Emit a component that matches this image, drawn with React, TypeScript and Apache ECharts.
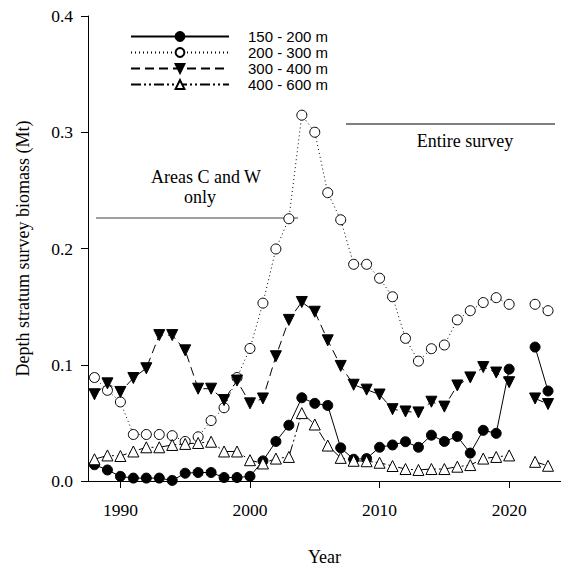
import React, { useEffect, useRef } from "react";
import * as echarts from "echarts";

const years = [1988,1989,1990,1991,1992,1993,1994,1995,1996,1997,1998,1999,2000,2001,2002,2003,2004,2005,2006,2007,2008,2009,2010,2011,2012,2013,2014,2015,2016,2017,2018,2019,2020,2021,2022,2023];

const s150_200 = [0.014,0.0095,0.004,0.0025,0.0025,0.0025,0.0005,0.0067,0.0073,0.0073,0.003,0.003,0.004,0.0173,0.034,0.048,0.0716,0.0668,0.065,0.0285,0.0187,0.0193,0.029,0.031,0.0338,0.029,0.0394,0.034,0.0383,0.024,0.0436,0.041,0.0962,null,0.1152,0.0774];
const s200_300 = [0.089,0.078,0.068,0.040,0.040,0.040,0.039,0.034,0.038,0.052,0.063,0.089,0.114,0.153,0.1996,0.2256,0.3147,0.300,0.248,0.2247,0.1864,0.1864,0.1744,0.1585,0.1227,0.1031,0.1138,0.117,0.1386,0.1465,0.1535,0.1577,0.152,null,0.152,0.1465];
const s300_400 = [0.0746,0.084,0.0766,0.0886,0.097,0.1255,0.1255,0.1124,0.0794,0.0794,0.0696,0.0864,0.0668,0.071,0.1073,0.1386,0.154,0.1456,0.121,0.099,0.0828,0.0786,0.0744,0.0618,0.0598,0.059,0.0682,0.064,0.0822,0.0891,0.098,0.0933,0.085,null,0.071,0.0662];
const s400_600 = [0.0187,0.022,0.0215,0.0254,0.029,0.029,0.031,0.0319,0.0327,0.0338,0.0254,0.0254,0.0179,0.0151,0.0193,0.0207,0.0584,0.0486,0.0305,0.0199,0.0174,0.017,0.0157,0.0129,0.0103,0.0095,0.0103,0.0103,0.0123,0.0137,0.0193,0.0207,0.022,null,0.0165,0.0131];

const seriesNames = ["150 - 200 m", "200 - 300 m", "300 - 400 m", "400 - 600 m"];
const xTickValues = [1990, 2000, 2010, 2020];

const pair = (vals: (number | null)[]) => years.map((y, i) => [y, vals[i]]);

export default function App() {
  const ref = useRef<HTMLDivElement>(null);
  useEffect(() => {
    if (!ref.current) return;
    const chart = echarts.init(ref.current, null, { renderer: "svg" });
    const serif = "'Liberation Serif', 'Times New Roman', serif";
    const sans = "'Liberation Sans', Arial, sans-serif";
    const base = (name: string, data: any, symbol: string, filled: boolean, dash: any, rotate = 0, size = 10) => ({
      type: "line",
      name,
      data,
      symbol,
      symbolSize: size,
      symbolRotate: rotate,
      connectNulls: false,
      lineStyle: { color: "#000", width: 1, type: dash },
      itemStyle: { color: filled ? "#000" : "#fff", borderColor: "#000", borderWidth: 1 },
      emphasis: { disabled: true },
    });
    chart.setOption({
      animation: false,
      grid: { left: 88, top: 16, height: 477, width: 484 },
      legend: {
        orient: "vertical",
        left: 125,
        top: 24,
        itemWidth: 98,
        itemHeight: 11,
        itemGap: 1,
        selectedMode: false,
        textStyle: { fontFamily: sans, fontSize: 15, color: "#000", padding: [0, 0, 0, 14] },
        data: seriesNames,
      },
      xAxis: {
        type: "value",
        min: 1987.5,
        max: 2024,
        name: "Year",
        nameLocation: "middle",
        nameGap: 67,
        nameTextStyle: { fontFamily: serif, fontSize: 18, color: "#000" },
        axisLine: { lineStyle: { color: "#000", width: 1 } },
        axisTick: { show: true, length: 7, inside: false, customValues: xTickValues, lineStyle: { color: "#000" } },
        axisLabel: { customValues: xTickValues, fontFamily: serif, fontSize: 17.5, color: "#000", margin: 20, formatter: (v: number) => String(v) },
        splitLine: { show: false },
      },
      yAxis: {
        type: "value",
        min: 0,
        max: 0.4,
        interval: 0.1,
        name: "Depth stratum survey biomass (Mt)",
        nameLocation: "middle",
        nameGap: 56,
        nameTextStyle: { fontFamily: serif, fontSize: 18, color: "#000" },
        axisLine: { show: true, lineStyle: { color: "#000", width: 1 } },
        axisTick: { show: true, length: 7, inside: false, lineStyle: { color: "#000" } },
        axisLabel: { fontFamily: serif, fontSize: 17.5, color: "#000", margin: 15, formatter: (v: number) => v.toFixed(1) },
        splitLine: { show: false },
      },
      graphic: [
        { type: "line", shape: { x1: 96, y1: 218, x2: 298, y2: 218 }, style: { stroke: "#808080", lineWidth: 1.5 } },
        { type: "line", shape: { x1: 346, y1: 124, x2: 555, y2: 124 }, style: { stroke: "#000", lineWidth: 1 } },
        { type: "text", x: 206, y: 177, style: { text: "Areas C and W", font: `18px ${serif}`, fill: "#000", textAlign: "center", textVerticalAlign: "middle" } },
        { type: "text", x: 200, y: 197, style: { text: "only", font: `18px ${serif}`, fill: "#000", textAlign: "center", textVerticalAlign: "middle" } },
        { type: "text", x: 465, y: 141, style: { text: "Entire survey", font: `18px ${serif}`, fill: "#000", textAlign: "center", textVerticalAlign: "middle" } },
      ],
      series: [
        base(seriesNames[0], pair(s150_200), "circle", true, "solid"),
        base(seriesNames[1], pair(s200_300), "circle", false, [1, 3]),
        base(seriesNames[2], pair(s300_400), "triangle", true, [9, 5], 180, 11),
        base(seriesNames[3], pair(s400_600), "triangle", false, [10, 3, 2, 3, 2, 3], 0, 11),
      ],
    });
    return () => chart.dispose();
  }, []);
  return <div ref={ref} style={{ position: "absolute", left: 0, top: 0, width: 561, height: 571 }} />;
}
